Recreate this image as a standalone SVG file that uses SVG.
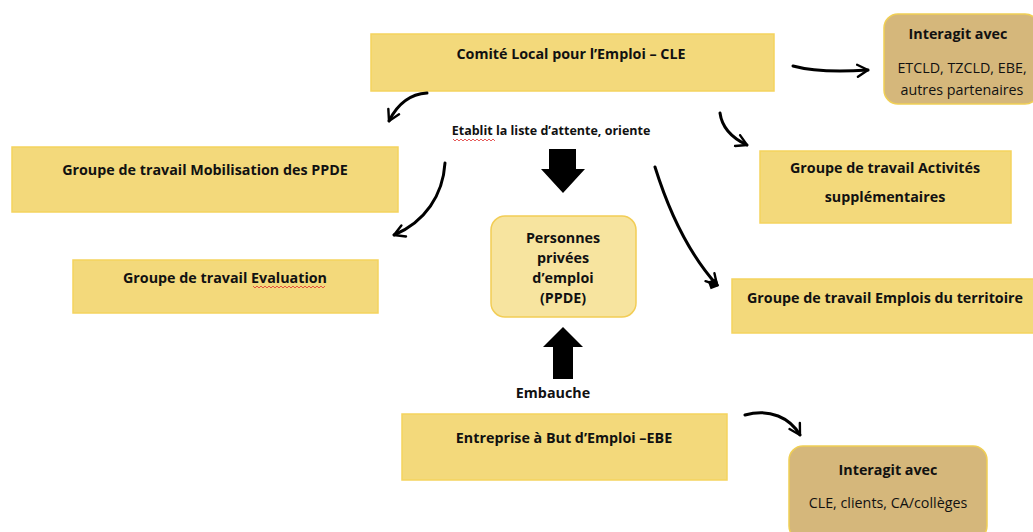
<svg xmlns="http://www.w3.org/2000/svg" width="1033" height="532" viewBox="0 0 1033 532">
<style>
.box{fill:#f3d97b;stroke:#f5d35e;stroke-width:1.5}
.tan{fill:#d5b77b;stroke:#f0cf55;stroke-width:1.5}
.ppde{fill:#f7e49f;stroke:#f2cd56;stroke-width:1.5}
text{font-family:"Open Sans","Liberation Sans",sans-serif;font-size:14.3px;fill:#111;text-anchor:middle}
.b{font-weight:bold}
.c{fill:none;stroke:#000;stroke-width:3;stroke-linecap:round}
.sq{stroke:#e03030;stroke-width:0.8;fill:none}
</style>
<defs>
<marker id="ah" viewBox="0 0 10 10" refX="8" refY="5" markerWidth="5" markerHeight="5" orient="auto" markerUnits="strokeWidth">
<polyline points="1,1 8,5 1,9" fill="none" stroke="#000" stroke-width="1.6" stroke-linecap="round" stroke-linejoin="round"/>
</marker>
</defs>
<rect width="1033" height="532" fill="#fff"/>
<g id="cle"><rect class="box" x="371" y="34" width="403" height="57"/><text class="b" x="571" y="59">Comité Local pour l’Emploi – CLE</text></g>
<g id="interagit1"><rect class="tan" x="884" y="14" width="155" height="90" rx="14"/><text class="b" x="958" y="39">Interagit avec</text><text x="962" y="73">ETCLD, TZCLD, EBE,</text><text x="962" y="95">autres partenaires</text></g>
<g id="etablit"><text class="b" x="551" y="135" style="font-size:12.5px">Etablit la liste d’attente, oriente</text><path class="sq" d="M453,139 l2,2 l2,-2 l2,2 l2,-2 l2,2 l2,-2 l2,2 l2,-2 l2,2 l2,-2 l2,2 l2,-2 l2,2 l2,-2 l2,2 l2,-2 l2,2 l2,-2 l2,2 l2,-2 l2,2"/></g>
<g id="mobilisation"><rect class="box" x="12" y="147" width="386" height="65"/><text class="b" x="205" y="175">Groupe de travail Mobilisation des PPDE</text></g>
<g id="evaluation"><rect class="box" x="73" y="260" width="305" height="53"/><text class="b" x="225" y="283">Groupe de travail Evaluation</text><path class="sq" d="M253,286 l2,2 l2,-2 l2,2 l2,-2 l2,2 l2,-2 l2,2 l2,-2 l2,2 l2,-2 l2,2 l2,-2 l2,2 l2,-2 l2,2 l2,-2 l2,2 l2,-2 l2,2 l2,-2 l2,2 l2,-2 l2,2 l2,-2 l2,2 l2,-2 l2,2 l2,-2 l2,2 l2,-2 l2,2 l2,-2 l2,2 l2,-2 l2,2 l2,-2"/></g>
<g id="activites"><rect class="box" x="760" y="151" width="251" height="72"/><text class="b" x="885" y="173">Groupe de travail Activités</text><text class="b" x="885" y="202">supplémentaires</text></g>
<g id="emplois"><rect class="box" x="732" y="279" width="305" height="54"/><text class="b" x="885" y="303">Groupe de travail Emplois du territoire</text></g>
<g id="ppde"><rect class="ppde" x="491" y="216" width="145" height="101" rx="14"/><text class="b" x="563" y="243">Personnes</text><text class="b" x="563" y="263">privées</text><text class="b" x="563" y="283">d’emploi</text><text class="b" x="563" y="303">(PPDE)</text></g>
<g id="embauche"><text class="b" x="553" y="398">Embauche</text></g>
<g id="ebe"><rect class="box" x="402" y="414" width="325" height="66"/><text class="b" x="564" y="443">Entreprise à But d’Emploi –EBE</text></g>
<g id="interagit2"><rect class="tan" x="789" y="446" width="198" height="94" rx="14"/><text class="b" x="888" y="475">Interagit avec</text><text x="888" y="508">CLE, clients, CA/collèges</text></g>
<g id="connectors">
<path class="c" d="M427,93 C410,94 398,103 389,121" marker-end="url(#ah)"/>
<path class="c" d="M720,113 C722,128 732,138 747,145" marker-end="url(#ah)"/>
<path class="c" d="M445,163 C443,195 425,222 394,235" marker-end="url(#ah)"/>
<path class="c" d="M655,167 C670,215 690,255 717,285" marker-end="url(#ah)"/>
<rect x="709" y="280" width="9" height="8" fill="#000" transform="rotate(-20 713 284)"/>
<path class="c" d="M793,66 C815,72 840,72 868,70" marker-end="url(#ah)"/>
<path class="c" d="M745,415 C770,408 790,418 800,435" marker-end="url(#ah)"/>
<polygon points="549,149 576,149 576,169 585,169 563,193 541,169 549,169" fill="#000"/>
<polygon points="553,379 573,379 573,347 583,347 563,327 543,347 553,347" fill="#000"/>
</g>
</svg>
